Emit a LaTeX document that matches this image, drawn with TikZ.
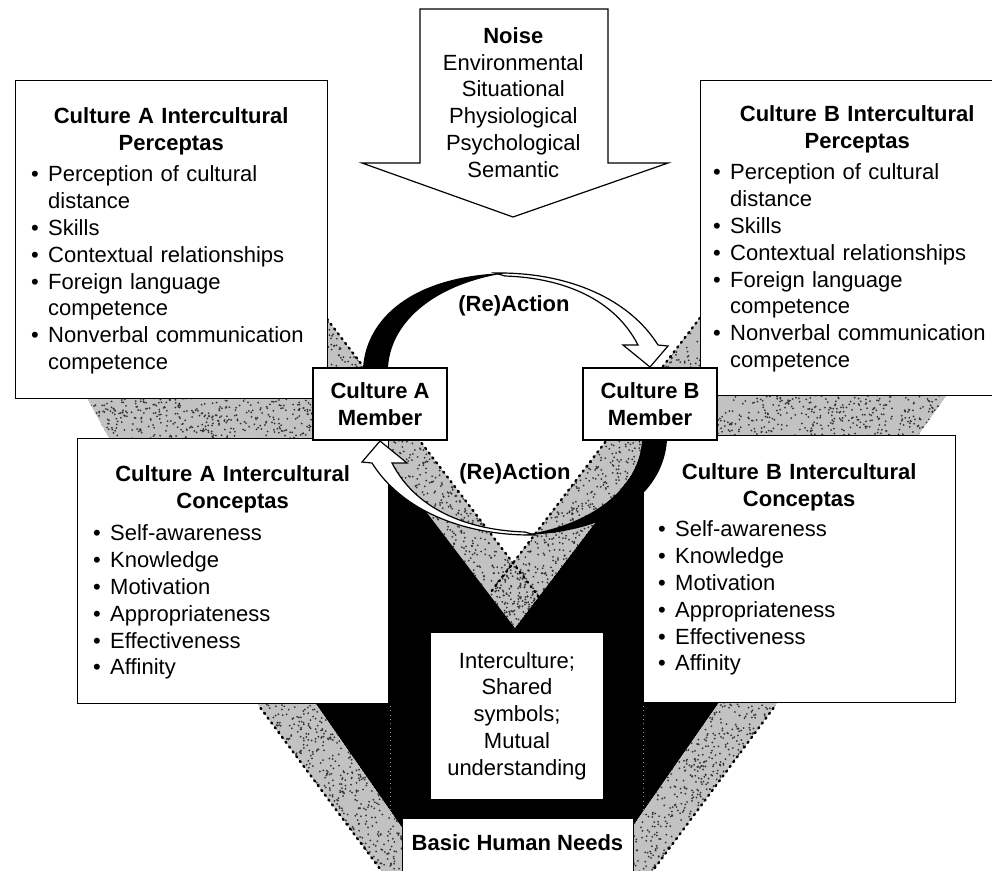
\documentclass[tikz,border=0pt]{standalone}
\usepackage{fontspec}
\setmainfont{Liberation Sans}
\newcommand\bitem[1]{\par\hangindent=17pt\hangafter=1\noindent\makebox[17pt][l]{\textbullet}#1\par}
\newcommand\firstline{\rule{0pt}{17pt}}
% random grain along a slanted strip: x at y=#2 is #1, slope #3, width #4, height #5, #6 grains
\newcommand\grainstrip[6]{\foreach \i in {1,...,#6}{%
  \pgfmathsetmacro\yy{#2+rnd*#5}\pgfmathsetmacro\xx{#1+#3*(\yy-#2)+rnd*#4}%
  \fill[grain] (\xx,\yy) circle (1);}}
\begin{document}
\begin{tikzpicture}[x=1pt,y=-1pt,
  box/.style={draw=black,line width=1.2pt,fill=white,inner sep=0pt},
  txt/.style={font=\fontsize{22}{26.8}\selectfont,inner sep=0pt},
  btxt/.style={font=\fontsize{22}{26.8}\selectfont\bfseries,inner sep=0pt},
  stip/.style={fill=black!24},
  grain/.style={fill=black!80},
  dotline/.style={line width=2.4pt,dash pattern=on 1.4pt off 4.6pt,line cap=round},
  faint/.style={draw=black!45,line width=0.9pt,dash pattern=on 0.8pt off 3.5pt},
  ring/.style={fill=white,draw=black,line width=1.2pt}]
\useasboundingbox (0,0) rectangle (992,870);
\clip (0,0) rectangle (992,870);
\pgfmathsetseed{4}

% black funnel
\fill[black] (132.3,440) -- (438.5,880) -- (595.5,880) -- (901.7,440) -- cycle;

% outer stippled bands of the funnel
\begin{scope}
  \clip (180.4,600) -- (388.2,880) -- (438.5,880) -- (243.6,600) -- cycle;
  \fill[stip] (180.4,600) -- (388.2,880) -- (438.5,880) -- (243.6,600) -- cycle;
  \grainstrip{254}{700}{0.72}{62}{175}{420}
\end{scope}
\begin{scope}
  \clip (853.6,600) -- (645.8,880) -- (595.5,880) -- (790.4,600) -- cycle;
  \fill[stip] (853.6,600) -- (645.8,880) -- (595.5,880) -- (790.4,600) -- cycle;
  \grainstrip{719}{700}{-0.72}{62}{175}{420}
\end{scope}

% inner stippled V, then its open centre
\begin{scope}
  \clip (211.5,230) -- (515,628) -- (818.5,230) -- cycle;
  \fill[stip] (211.5,230) -- (515,628) -- (818.5,230) -- cycle;
  \grainstrip{271}{310}{0.7625}{52}{322}{650}
  \grainstrip{705}{310}{-0.7625}{54}{322}{650}
  \fill[white] (259.1,230) -- (513,563) -- (766.9,230) -- cycle;
\end{scope}

% stippled strips between perceptas and conceptas
\begin{scope}
  \clip (87,398) -- (330,398) -- (330,440) -- (110,440) -- cycle;
  \fill[stip] (87,398) -- (330,398) -- (330,440) -- (110,440) -- cycle;
  \grainstrip{87}{398}{0}{245}{42}{420}
\end{scope}
\begin{scope}
  \clip (947,395) -- (700,395) -- (700,437) -- (917,437) -- cycle;
  \fill[stip] (947,395) -- (700,395) -- (700,437) -- (917,437) -- cycle;
  \grainstrip{700}{395}{0}{248}{42}{420}
\end{scope}

% dotted edges
\draw[dotline] (260.5,708) -- (388.2,880);
\draw[dotline] (773.5,708) -- (645.8,880);
\draw[dotline] (327,319) -- (538.8,596.8);
\draw[dotline] (700,317.8) -- (489.2,594.2);
\draw[faint] (390,706) -- (390,816);
\draw[faint] (643,706) -- (643,816);

% conceptas
\node[box,minimum width=311pt,minimum height=265pt,anchor=north west] (concA) at (77,438) {};
\node[txt,anchor=north west,text width=279pt,align=left] (concAtext) at (93,464)
  {{\centering\bfseries\firstline Culture A Intercultural\\Conceptas\par}\vspace{6pt}%
   \bitem{Self-awareness}\bitem{Knowledge}\bitem{Motivation}\bitem{Appropriateness}\bitem{Effectiveness}\bitem{Affinity}};
\node[box,minimum width=312pt,minimum height=267pt,anchor=north west] (concB) at (643,435) {};
\node[txt,anchor=north west,text width=282pt,align=left] (concBtext) at (658,462)
  {{\centering\bfseries\firstline Culture B Intercultural\\Conceptas\par}\vspace{4pt}%
   \bitem{Self-awareness}\bitem{Knowledge}\bitem{Motivation}\bitem{Appropriateness}\bitem{Effectiveness}\bitem{Affinity}};

% perceptas
\node[box,minimum width=312pt,minimum height=318pt,anchor=north west] (percA) at (15,80) {};
\node[txt,anchor=north west,text width=280pt,align=left] (percAtext) at (31,106)
  {{\centering\bfseries\firstline Culture A Intercultural\\Perceptas\par}\vspace{5pt}%
   \bitem{Perception of cultural\newline distance}\bitem{Skills}\bitem{Contextual relationships}%
   \bitem{Foreign language\newline competence}\bitem{Nonverbal communication\newline competence}};
\node[box,minimum width=320pt,minimum height=315pt,anchor=north west] (percB) at (700,80) {};
\node[txt,anchor=north west,text width=288pt,align=left] (percBtext) at (713,104)
  {{\centering\bfseries\firstline Culture B Intercultural\\Perceptas\par}\vspace{5pt}%
   \bitem{Perception of cultural\newline distance}\bitem{Skills}\bitem{Contextual relationships}%
   \bitem{Foreign language\newline competence}\bitem{Nonverbal communication\newline competence}};

% (re)action ring: upper half (hollow arrow and its dark underside), then the same turned half a circle
\newcommand\ringhalf{%
  \filldraw[ring] (495,273) .. controls (570,272) and (630,300) .. (658,345)
    -- (668,346) -- (650,367) -- (623,345) -- (638,345)
    .. controls (615,300) and (565,278) .. (505,276) -- cycle;
  \fill[black] (361,382) -- (363,368) .. controls (366,320) and (410,276) .. (506,273)
    .. controls (430,285) and (390,325) .. (388,368) -- (388,382) -- cycle;}
\ringhalf
\begin{scope}[rotate around={180:(515,404)}]
\ringhalf
\end{scope}

% members
\node[box,btxt,minimum width=134pt,minimum height=72pt,align=center] (memA) at (380,404) {Culture A\\Member};
\node[box,btxt,minimum width=134pt,minimum height=72pt,align=center] (memB) at (650,404) {Culture B\\Member};

% interculture and basic needs
\node[box,txt,minimum width=174pt,minimum height=168pt,align=center] (inter) at (517,716)
  {Interculture;\\Shared\\symbols;\\Mutual\\understanding};
\node[box,minimum width=231pt,minimum height=70pt,anchor=north west] (bhn) at (402,818) {};
\node[btxt,anchor=base] (bhnlabel) at (517.5,850.7) {Basic Human Needs};

% noise arrow
\filldraw[fill=white,draw=black,line width=1.2pt] (420,9) -- (608,9) -- (608,163) -- (668,163)
  -- (513,217) -- (362,163) -- (420,163) -- cycle;
\node[txt,anchor=north,align=center] (noise) at (513.3,26)
  {{\bfseries\firstline Noise}\\Environmental\\Situational\\Physiological\\Psychological\\Semantic};

\node[btxt,anchor=base] (reacttop) at (514,311) {(Re)Action};
\node[btxt,anchor=base] (reactbot) at (515,479) {(Re)Action};
\end{tikzpicture}
\end{document}
